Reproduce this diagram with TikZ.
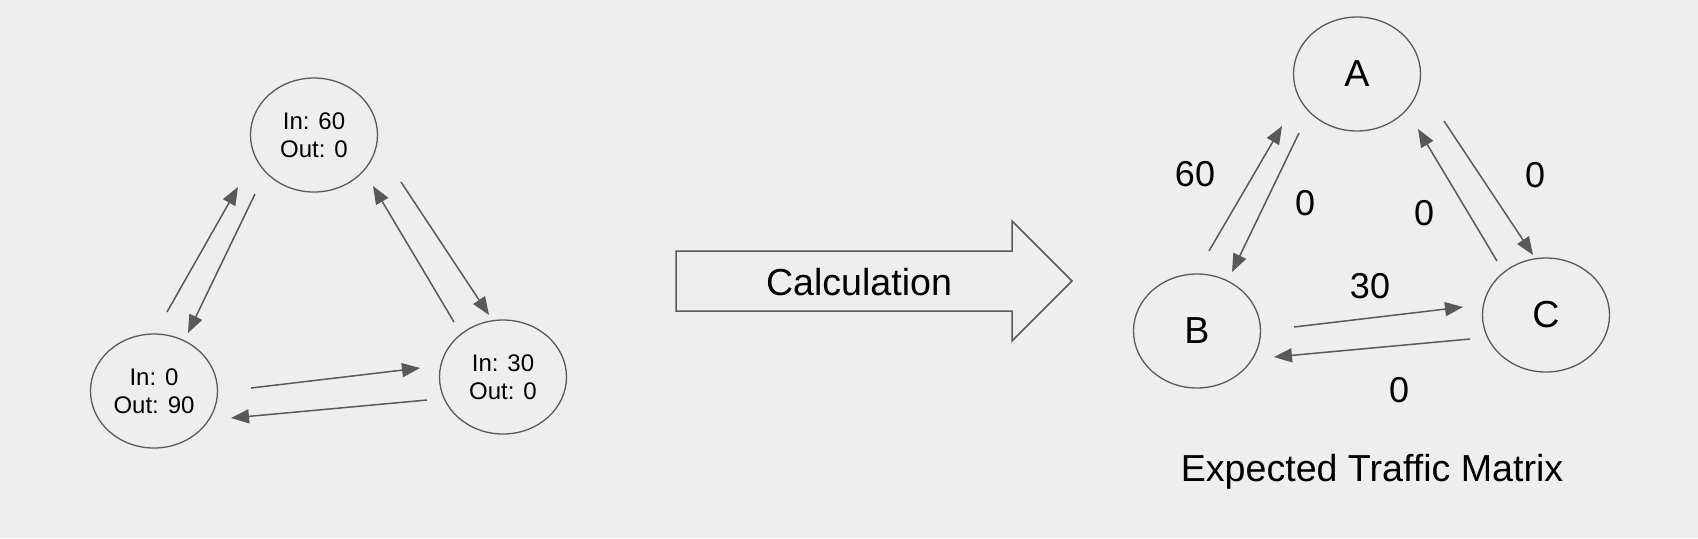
\documentclass[tikz,border=0pt]{standalone}
\usepackage{fontspec}
\setmainfont{Liberation Sans}
\usetikzlibrary{shapes.geometric,arrows.meta}
\definecolor{bggray}{RGB}{238,238,238}
\definecolor{linegray}{RGB}{89,89,89}

\begin{document}
\begin{tikzpicture}[x=0.5pt,y=-0.5pt,
	state/.style={draw=linegray,ellipse,line width=0.65pt,minimum width=63.5pt,minimum height=57pt,inner sep=0pt,align=center,font=\fontsize{12}{14.2}\selectfont},
	bigstate/.style={state,font=\fontsize{18.8}{22}\selectfont},
	flow/.style={draw=linegray,line width=0.75pt,-{Triangle[length=9pt,width=7pt]}},
	weight/.style={font=\fontsize{18}{21}\selectfont}]
	\fill[bggray] (0,0) rectangle (1698,538);

	% measured traffic
	\coordinate (in_top) at (314,135);
	\coordinate (in_left) at (154,391);
	\coordinate (in_right) at (503,377);
	\node[state] (Top) at (in_top) {In: 60\\Out: 0};
	\node[state] (Left) at (in_left) {In: 0\\Out: 90};
	\node[state] (Right) at (in_right) {In: 30\\Out: 0};

	\draw[flow] ([shift={(13,-79)}]Left.center) -- ([shift={(-76,52)}]Top.center);
	\draw[flow] ([shift={(-59,59)}]Top.center) -- ([shift={(34,-58)}]Left.center);
	\draw[flow] ([shift={(-49,-55)}]Right.center) -- ([shift={(59,51)}]Top.center);
	\draw[flow] ([shift={(87,47)}]Top.center) -- ([shift={(-14,-62)}]Right.center);
	\draw[flow] ([shift={(97,-3)}]Left.center) -- ([shift={(-83,-9)}]Right.center);
	\draw[flow] ([shift={(-76,23)}]Right.center) -- ([shift={(77,27)}]Left.center);

	% calculation arrow
	\draw[linegray,line width=0.75pt,line join=miter] (676,251) -- (1012,251) -- (1012,221) -- (1072,281) -- (1012,341) -- (1012,311) -- (676,311) -- cycle;
	\node[font=\fontsize{18.8}{22}\selectfont] (calc) at (859,282) {Calculation};

	% expected traffic matrix
	\coordinate (a) at (1357,74);
	\coordinate (b) at (1197,331);
	\coordinate (c) at (1546,315);
	\node[bigstate] (A) at (a) {A};
	\node[bigstate] (B) at (b) {B};
	\node[bigstate] (C) at (c) {C};

	\draw[flow] ([shift={(12,-80)}]B.center) -- ([shift={(-75,52)}]A.center);
	\draw[flow] ([shift={(-58,59)}]A.center) -- ([shift={(35,-59)}]B.center);
	\draw[flow] ([shift={(-49,-54)}]C.center) -- ([shift={(61,55)}]A.center);
	\draw[flow] ([shift={(87,47)}]A.center) -- ([shift={(-13,-60)}]C.center);
	\draw[flow] ([shift={(97,-4)}]B.center) -- ([shift={(-83,-8)}]C.center);
	\draw[flow] ([shift={(-76,24)}]C.center) -- ([shift={(77,26)}]B.center);

	\node[weight] (w_ba) at (1195,174) {60};
	\node[weight] (w_ab) at (1305,203) {0};
	\node[weight] (w_ca) at (1424,213) {0};
	\node[weight] (w_ac) at (1535,175) {0};
	\node[weight] (w_bc) at (1370,286) {30};
	\node[weight] (w_cb) at (1399,390) {0};
	\node[font=\fontsize{18.8}{22}\selectfont,anchor=base] (title) at (1372,481) {Expected Traffic Matrix};
\end{tikzpicture}
\end{document}
